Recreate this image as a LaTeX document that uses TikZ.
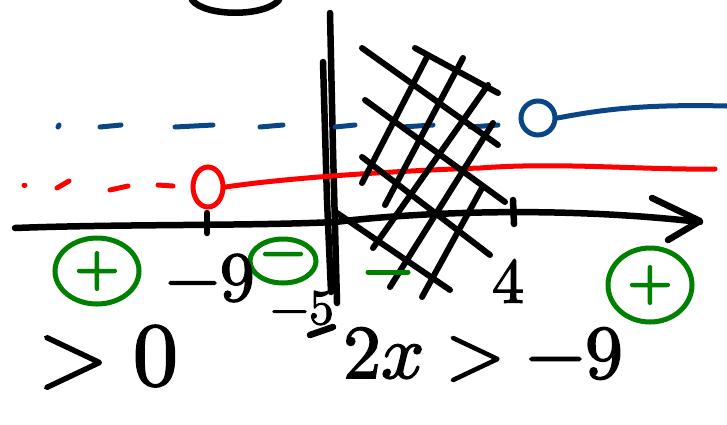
\documentclass[tikz,border=0pt]{standalone}
\usepackage{unicode-math}
\setmathfont[FakeBold=2]{Latin Modern Math}
\newfontfamily\signfont[FakeBold=4]{Latin Modern Roman}
\usetikzlibrary{shapes.geometric}

\definecolor{lineblue}{RGB}{8,70,135}
\definecolor{linered}{RGB}{255,0,0}
\definecolor{signgreen}{RGB}{0,128,0}

\begin{document}
\begin{tikzpicture}[x=1pt, y=-1pt,
		ink/.style={line width=6.5pt, line cap=round, line join=round},
		hatch/.style={ink, line width=6pt},
		blueline/.style={draw=lineblue, line width=5pt, line cap=round, line join=round},
		redline/.style={draw=linered, line width=5pt, line cap=round, line join=round},
		handtext/.style={inner sep=0pt, font=\fontsize{70}{70}\selectfont},
		signbox/.style={ellipse, draw=signgreen, line width=5pt, text=signgreen, inner sep=0pt, font=\signfont\fontsize{60}{60}\selectfont}]
	\useasboundingbox (0,0) rectangle (727,424);

	% top of a letter cut by the frame
	\draw[ink] (192,0) .. controls (205,17) and (265,17) .. (279,0);

	% number line
	\draw[ink] (15,228) .. controls (120,224) and (250,226) .. (335,222)
		.. controls (420,212) and (560,206) .. (700,222);
	\draw[ink] (652,198) -- (700,221) -- (668,240);
	\draw[ink] (207,213) -- (207,233);
	\draw[ink] (513,200) -- (514,224);

	% vertical axis
	\draw[ink] (330,13) -- (333,150) -- (337,303);
	\draw[ink] (323,62) -- (327,200) -- (331,292);

	% blue ray
	\foreach \xa/\xb in {58/59, 100/121, 175/213, 260/283, 335/355, 402/433, 470/498}
		\draw[blueline] (\xa,127) -- (\xb,125);
	\node (bluepoint) [circle, draw=lineblue, line width=5pt, minimum size=34pt, inner sep=0pt] at (538,118) {};
	\draw[blueline] (bluepoint.east) .. controls (600,110) and (640,104) .. (727,106);

	% red ray
	\foreach \xa/\ya/\xb/\yb in {24/185/25/185, 57/188/69/181, 110/190/128/186, 158/185/173/186}
		\draw[redline] (\xa,\ya) -- (\xb,\yb);
	\node (redpoint) [ellipse, draw=linered, line width=5pt, minimum width=30pt, minimum height=40pt, inner sep=0pt] at (208,187) {};
	\draw[redline] (redpoint.east) .. controls (300,176) and (420,170) .. (480,168)
		.. controls (560,162) and (640,170) .. (715,169);

	% hatched region
	\foreach \xa/\ya/\xb/\yb in {362/48/498/145, 415/48/498/93, 365/100/505/202, 362/157/490/255, 337/213/450/290,
		427/57/362/183, 463/58/385/205, 488/85/373/248, 493/123/390/287, 482/188/422/297}
		\draw[hatch] (\xa,\ya) -- (\xb,\yb);

	% signs
	\node (plusleft) [signbox, minimum width=84pt, minimum height=66pt] at (97,271) {+};
	\node (minusmid) [signbox, minimum width=66pt, minimum height=44pt] at (283,261) {−};
	\node (plusright) [signbox, minimum width=84pt, minimum height=74pt] at (650,285) {+};
	\draw[draw=signgreen, line width=5pt, line cap=round] (368,272) -- (408,272);

	% numbers
	\node (minusnine) [handtext] at (210,278) {$-9$};
	\node (four) [handtext, font=\fontsize{64}{64}\selectfont] at (508,281) {$4$};
	\node (minusfive) [handtext, font=\fontsize{50}{50}\selectfont] at (302,308) {$-5$};
	\draw[ink] (310,335) -- (333,327);
	\node (gtzero) [handtext, font=\fontsize{90}{90}\selectfont, anchor=base] at (108,385) {$>0$};
	\node (ineq) [handtext, font=\fontsize{76}{76}\selectfont, anchor=base] at (483,378) {$2x>-9$};
\end{tikzpicture}
\end{document}
